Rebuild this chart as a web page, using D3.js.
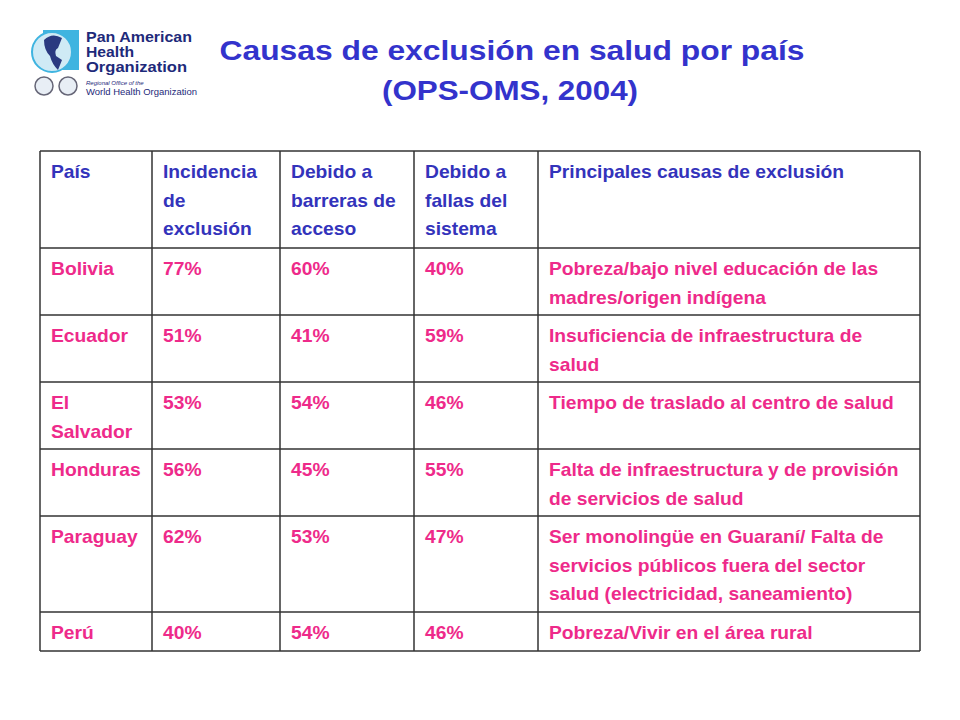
<!DOCTYPE html>
<html><head><meta charset="utf-8">
<script src="https://cdn.jsdelivr.net/npm/d3@7"></script>
<style>body{margin:0;background:#fff}</style></head>
<body><svg id="c" width="960" height="720"></svg>
<script>
const headers = [["País"],["Incidencia","de","exclusión"],["Debido a","barreras de","acceso"],["Debido a","fallas del","sistema"],["Principales causas de exclusión"]];
const countries = [["Bolivia"],["Ecuador"],["El","Salvador"],["Honduras"],["Paraguay"],["Perú"]];
const incidencia = ["77%","51%","53%","56%","62%","40%"];
const barreras = ["60%","41%","54%","45%","53%","54%"];
const fallas = ["40%","59%","46%","55%","47%","46%"];
const causas = [["Pobreza/bajo nivel educación de las","madres/origen indígena"],["Insuficiencia de infraestructura de","salud"],["Tiempo de traslado al centro de salud"],["Falta de infraestructura y de provisión","de servicios de salud"],["Ser monolingüe en Guaraní/ Falta de","servicios públicos fuera del sector","salud (electricidad, saneamiento)"],["Pobreza/Vivir en el área rural"]];

const svg = d3.select("#c");
const font = "'Liberation Sans', Arial, sans-serif";
const blue = "#3333bb", pink = "#ee2a8a";
const colX = [40,152,280,414,538,920];
const rowY = [151,248,315,382,449,516,612,651];

// title
svg.append("text").attr("x",512).attr("y",60).attr("text-anchor","middle").attr("font-family",font).attr("font-weight","bold").attr("font-size",27).attr("fill","#3333cc")
  .attr("textLength",585).attr("lengthAdjust","spacingAndGlyphs").text("Causas de exclusión en salud por país");
svg.append("text").attr("x",510).attr("y",100).attr("text-anchor","middle").attr("font-family",font).attr("font-weight","bold").attr("font-size",27).attr("fill","#3333cc")
  .attr("textLength",256).attr("lengthAdjust","spacingAndGlyphs").text("(OPS-OMS, 2004)");

// logo
const lg = svg.append("g");
lg.append("rect").attr("x",43).attr("y",30).attr("width",36).attr("height",40).attr("fill","#3fb4e0");
lg.append("circle").attr("cx",52).attr("cy",52).attr("r",20).attr("fill","#cfeaf5").attr("stroke","#3fb4e0").attr("stroke-width",2);
lg.append("path").attr("d","M44,40 Q52,32 62,38 L58,48 Q54,50 56,56 L62,60 L58,70 Q52,64 50,56 Q44,50 44,40Z").attr("fill","#2a3a80");
[[44,86],[68,86]].forEach(([x,y])=>lg.append("circle").attr("cx",x).attr("cy",y).attr("r",9).attr("fill","#e8eef5").attr("stroke","#667").attr("stroke-width",1.5));
[["Pan American",42,106],["Health",57,48],["Organization",72,101]].forEach(([t,y,w])=>lg.append("text").attr("x",86).attr("y",y).attr("font-family",font).attr("font-weight","bold").attr("font-size",14).attr("fill","#1e2a7a")
  .attr("textLength",w).attr("lengthAdjust","spacingAndGlyphs").text(t));
lg.append("text").attr("x",86).attr("y",85).attr("font-family",font).attr("font-style","italic").attr("font-size",6).attr("fill","#1e2a7a").text("Regional Office of the");
lg.append("text").attr("x",86).attr("y",95).attr("font-family",font).attr("font-size",9).attr("fill","#1e2a7a").attr("textLength",111).attr("lengthAdjust","spacingAndGlyphs").text("World Health Organization");

// table
const g = svg.append("g");
const lh = 28.5;
function cell(ci, ri, lines, color){
  lines.forEach((t,i)=>{
    const x = colX[ci]+11, y = rowY[ri]+27+i*lh;
    g.append("text").attr("transform",`translate(${x},${y}) scale(1.1,1)`)
      .attr("font-family",font).attr("font-weight","bold").attr("font-size",17.5).attr("fill",color).text(t);
  });
}
headers.forEach((h,i)=>cell(i,0,h,blue));
const cols = [countries, incidencia.map(d=>[d]), barreras.map(d=>[d]), fallas.map(d=>[d]), causas];
cols.forEach((col,ci)=>col.forEach((lines,ri)=>cell(ci,ri+1,lines,pink)));

colX.forEach(x=>g.append("line").attr("x1",x).attr("x2",x).attr("y1",rowY[0]).attr("y2",rowY[rowY.length-1]).attr("stroke","#333").attr("stroke-width",1.5));
rowY.forEach(y=>g.append("line").attr("x1",colX[0]).attr("x2",colX[colX.length-1]).attr("y1",y).attr("y2",y).attr("stroke","#333").attr("stroke-width",1.5));
</script></body></html>
